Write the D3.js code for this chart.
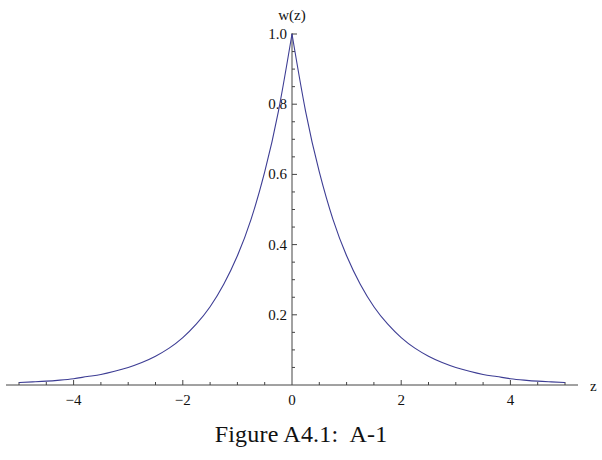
<!DOCTYPE html>
<html>
<head>
<meta charset="utf-8">
<script src="https://cdn.jsdelivr.net/npm/d3@7"></script>
<style>
  body { margin: 0; background: #fff; }
  svg { display: block; }
  text { font-family: "Liberation Serif", "DejaVu Serif", serif; white-space: pre; }
</style>
</head>
<body>
<svg id="chart"></svg>
<script>
// values (curve is symmetric around z = 0)
const zRight = [0, 0.25, 0.5, 0.75, 1, 1.25, 1.5, 1.75, 2, 2.25, 2.5, 2.75, 3, 3.25, 3.5, 3.75, 4, 4.25, 4.5, 4.75, 5];
const wRight = [1.0, 0.779, 0.607, 0.472, 0.368, 0.287, 0.223, 0.174, 0.135, 0.105, 0.082, 0.064, 0.05, 0.039, 0.03, 0.024, 0.018, 0.014, 0.011, 0.009, 0.007];
const xTicks = [-4, -2, 0, 2, 4];
const yTicks = [0.2, 0.4, 0.6, 0.8, 1.0];
const caption = "Figure A4.1:  A-1";

const W = 602, H = 460;
const svg = d3.select("#chart").attr("width", W).attr("height", H);

const x = d3.scaleLinear().domain([-5, 5]).range([19, 565]);
const y = d3.scaleLinear().domain([0, 1]).range([385, 34]);

const axisColor = "#444";
const g = svg.append("g");

// x axis line
g.append("line")
  .attr("x1", 6).attr("x2", 578)
  .attr("y1", y(0)).attr("y2", y(0))
  .attr("stroke", axisColor).attr("stroke-width", 1);

// x ticks: minor every 0.5, major on labels
d3.range(-5, 5.01, 0.5).forEach(v => {
  if (Math.abs(v) < 1e-9) return;
  const major = xTicks.includes(v);
  g.append("line")
    .attr("x1", x(v)).attr("x2", x(v))
    .attr("y1", y(0)).attr("y2", y(0) - (major ? 5 : 3))
    .attr("stroke", axisColor).attr("stroke-width", 1);
});

g.selectAll(".xl").data(xTicks).enter().append("text")
  .attr("x", d => x(d))
  .attr("y", y(0) + 20)
  .attr("text-anchor", "middle")
  .attr("font-size", 15)
  .attr("fill", "#111")
  .text(d => d < 0 ? "\u2212" + Math.abs(d) : d);

// y axis line
g.append("line")
  .attr("x1", x(0)).attr("x2", x(0))
  .attr("y1", y(0)).attr("y2", y(1) - 1)
  .attr("stroke", axisColor).attr("stroke-width", 1);

// y ticks: minor every 0.05
d3.range(0.05, 1.001, 0.05).forEach(v => {
  const major = yTicks.some(t => Math.abs(t - v) < 1e-6);
  g.append("line")
    .attr("x1", x(0)).attr("x2", x(0) + (major ? 5 : 3))
    .attr("y1", y(v)).attr("y2", y(v))
    .attr("stroke", axisColor).attr("stroke-width", 1);
});

g.selectAll(".yl").data(yTicks).enter().append("text")
  .attr("x", x(0) - 5)
  .attr("y", d => y(d) + 5)
  .attr("text-anchor", "end")
  .attr("font-size", 15)
  .attr("fill", "#111")
  .text(d => d.toFixed(1));

// axis names
g.append("text")
  .attr("x", x(0)).attr("y", 20)
  .attr("text-anchor", "middle")
  .attr("font-size", 15)
  .attr("fill", "#111")
  .text("w(z)");

g.append("text")
  .attr("x", 590).attr("y", 391)
  .attr("font-size", 15)
  .attr("fill", "#111")
  .text("z");

// curve, drawn as two halves so the peak stays sharp
const right = zRight.map((z, i) => ({z: z, w: wRight[i]}));
const left = right.map(d => ({z: -d.z, w: d.w})).reverse();

const line = d3.line()
  .x(d => x(d.z))
  .y(d => y(d.w))
  .curve(d3.curveNatural);

[left, right].forEach(half => {
  g.append("path")
    .datum(half)
    .attr("d", line)
    .attr("fill", "none")
    .attr("stroke", "#3d3d94")
    .attr("stroke-width", 1.1);
});

// caption
svg.append("text")
  .attr("x", 301).attr("y", 442)
  .attr("text-anchor", "middle")
  .attr("font-size", 24)
  .attr("letter-spacing", 0.2)
  .attr("fill", "#111")
  .text(caption);
</script>
</body>
</html>
